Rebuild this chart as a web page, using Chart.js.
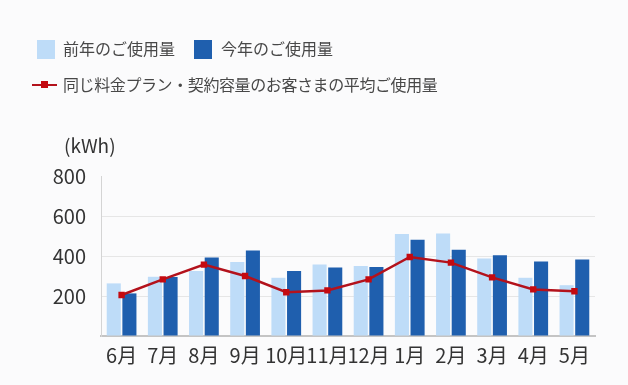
<!DOCTYPE html>
<html>
<head>
<meta charset="utf-8">
<script src="https://cdn.jsdelivr.net/npm/chart.js@4"></script>
<style>
    html, body { margin: 0; padding: 0; background: #fbfbfc; }
    #wrap { position: relative; width: 628px; height: 385px; }
    #legend { position: absolute; left: 0; top: 0; font-family: "Noto Sans CJK JP", sans-serif; font-size: 16px; color: #484848; }
    .item { position: absolute; white-space: nowrap; line-height: 20px; }
    .box { position: absolute; width: 18px; height: 19px; }
</style>
</head>
<body>
<div id="wrap">
    <canvas id="usage-chart" width="628" height="385"></canvas>
    <div id="legend"></div>
</div>
<script>
const months = ['6月', '7月', '8月', '9月', '10月', '11月', '12月', '1月', '2月', '3月', '4月', '5月'];
const lastYear = [263, 296, 325, 370, 291, 357, 350, 510, 513, 387, 291, 254];
const thisYear = [213, 295, 392, 427, 325, 342, 345, 481, 431, 404, 372, 382];
const average = [205, 283, 357, 300, 219, 228, 283, 395, 367, 293, 233, 224];
const yTicks = [200, 400, 600, 800];

const labels = {
    lastYear: '前年のご使用量',
    thisYear: '今年のご使用量',
    average: '同じ料金プラン・契約容量のお客さまの平均ご使用量'
};
const colors = {
    light: '#bedcf8',
    dark: '#1f5fae',
    line: '#b3121c',
    marker: '#c40a10'
};

// legend drawn as plain html so the two rows sit where the original has them
const legend = document.getElementById('legend');
legend.innerHTML =
    '<div class="box" style="left:37px;top:40px;background:' + colors.light + '"></div>' +
    '<div class="item" style="left:63px;top:38px">' + labels.lastYear + '</div>' +
    '<div class="box" style="left:194px;top:40px;background:' + colors.dark + '"></div>' +
    '<div class="item" style="left:221px;top:38px">' + labels.thisYear + '</div>' +
    '<div style="position:absolute;left:32px;top:84px;width:25px;height:1.5px;background:' + colors.line + '"></div>' +
    '<div style="position:absolute;left:41px;top:81px;width:7px;height:7px;background:' + colors.marker + '"></div>' +
    '<div class="item" style="left:63px;top:74px;letter-spacing:-0.4px">' + labels.average + '</div>';

const unitLabel = {
    id: 'unitLabel',
    afterDraw(chart) {
        const ctx = chart.ctx;
        ctx.save();
        ctx.font = '19px "Noto Sans CJK JP", sans-serif';
        ctx.fillStyle = '#333';
        ctx.textBaseline = 'middle';
        ctx.fillText('(kWh)', 64, 146);
        ctx.restore();
    }
};

new Chart(document.getElementById('usage-chart'), {
    data: {
        labels: months,
        datasets: [
            {
                type: 'line',
                label: labels.average,
                data: average,
                borderColor: colors.line,
                borderWidth: 2.5,
                backgroundColor: colors.marker,
                pointStyle: 'rect',
                pointRadius: 4.5,
                pointBorderWidth: 0,
                tension: 0,
                order: 0
            },
            {
                type: 'bar',
                label: labels.lastYear,
                data: lastYear,
                backgroundColor: colors.light,
                categoryPercentage: 0.76,
                barPercentage: 0.9,
                order: 1
            },
            {
                type: 'bar',
                label: labels.thisYear,
                data: thisYear,
                backgroundColor: colors.dark,
                categoryPercentage: 0.76,
                barPercentage: 0.9,
                order: 1
            }
        ]
    },
    options: {
        responsive: false,
        animation: false,
        layout: { padding: { top: 176, right: 33, left: 0, bottom: 0 } },
        plugins: {
            legend: { display: false },
            tooltip: { enabled: false }
        },
        scales: {
            x: {
                grid: { display: false, drawTicks: false },
                border: { color: '#c4c4c4', width: 2 },
                ticks: {
                    color: '#333',
                    padding: 7,
                    maxRotation: 0,
                    autoSkip: false,
                    font: { family: '"Noto Sans CJK JP", sans-serif', size: 20 }
                },
                afterFit(scale) { scale.height = 49; }
            },
            y: {
                min: 0,
                max: 800,
                afterBuildTicks(scale) {
                    scale.ticks = [0].concat(yTicks).map(v => ({ value: v }));
                },
                grid: {
                    drawTicks: false,
                    color: ctx => (ctx.tick && (ctx.tick.value === 0 || ctx.tick.value === 800)) ? 'rgba(0,0,0,0)' : '#e6e6e6'
                },
                border: { color: '#d4d4d4', width: 1 },
                ticks: {
                    color: '#333',
                    padding: 15,
                    font: { family: '"Noto Sans CJK JP", sans-serif', size: 20 },
                    callback: v => v === 0 ? '' : v
                },
                afterFit(scale) { scale.width = 101; }
            }
        }
    },
    plugins: [unitLabel]
});
</script>
</body>
</html>
